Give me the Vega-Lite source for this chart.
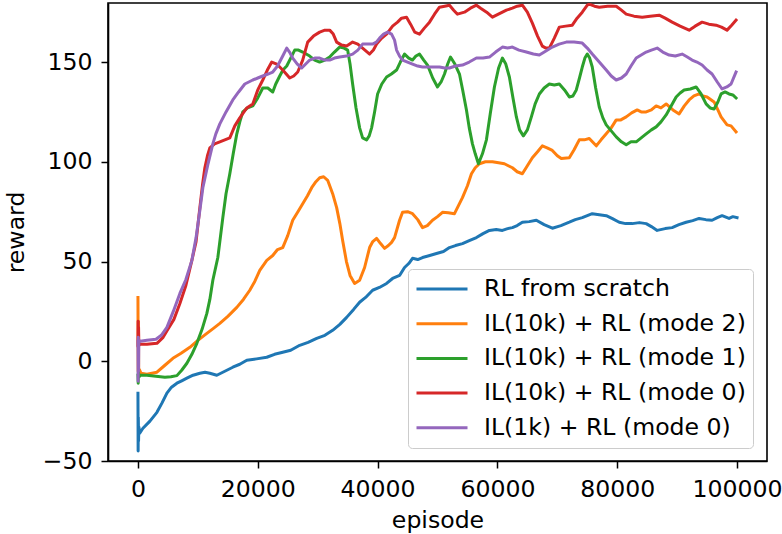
{
  "$schema": "https://vega.github.io/schema/vega-lite/v6.json",
  "width": 659,
  "height": 458,
  "autosize": "none",
  "padding": {"left": 108, "top": 3, "right": 15, "bottom": 73},
  "config": {
    "font": "DejaVu Sans",
    "view": {"stroke": "black", "strokeWidth": 1.6},
    "axis": {
      "labelFontSize": 23.6, "titleFontSize": 23.6, "titleFontWeight": "normal",
      "labelColor": "black", "titleColor": "black",
      "tickColor": "black", "tickSize": 7, "tickWidth": 1.5,
      "domainColor": "black", "domainWidth": 1.6, "grid": false,
      "labelFlush": false, "labelOverlap": false
    }
  },
  "layer": [
    {
      "data": {"values": [
{"series":"RL from scratch","episode":0,"reward":-16},{"series":"RL from scratch","episode":30,"reward":-45},{"series":"RL from scratch","episode":60,"reward":-28},{"series":"RL from scratch","episode":100,"reward":-40},{"series":"RL from scratch","episode":150,"reward":-33},{"series":"RL from scratch","episode":300,"reward":-36},{"series":"RL from scratch","episode":833,"reward":-33.6},{"series":"RL from scratch","episode":2000,"reward":-30},{"series":"RL from scratch","episode":3167,"reward":-25.6},{"series":"RL from scratch","episode":4000,"reward":-21},{"series":"RL from scratch","episode":4833,"reward":-16},{"series":"RL from scratch","episode":5600,"reward":-13},{"series":"RL from scratch","episode":6500,"reward":-11},{"series":"RL from scratch","episode":7300,"reward":-9.8},{"series":"RL from scratch","episode":8167,"reward":-8.5},{"series":"RL from scratch","episode":9200,"reward":-7},{"series":"RL from scratch","episode":10333,"reward":-6},{"series":"RL from scratch","episode":11200,"reward":-5.5},{"series":"RL from scratch","episode":12000,"reward":-6},{"series":"RL from scratch","episode":13167,"reward":-7},{"series":"RL from scratch","episode":14500,"reward":-5},{"series":"RL from scratch","episode":15833,"reward":-3},{"series":"RL from scratch","episode":17000,"reward":-1.5},{"series":"RL from scratch","episode":18167,"reward":0.5},{"series":"RL from scratch","episode":19800,"reward":1.2},{"series":"RL from scratch","episode":21500,"reward":2},{"series":"RL from scratch","episode":22800,"reward":3.5},{"series":"RL from scratch","episode":24167,"reward":4.5},{"series":"RL from scratch","episode":25500,"reward":5.5},{"series":"RL from scratch","episode":27000,"reward":8},{"series":"RL from scratch","episode":28400,"reward":9.5},{"series":"RL from scratch","episode":29833,"reward":11.5},{"series":"RL from scratch","episode":31200,"reward":13},{"series":"RL from scratch","episode":32500,"reward":15.5},{"series":"RL from scratch","episode":33700,"reward":18.5},{"series":"RL from scratch","episode":34833,"reward":22},{"series":"RL from scratch","episode":36000,"reward":26},{"series":"RL from scratch","episode":37000,"reward":29.6},{"series":"RL from scratch","episode":38000,"reward":32},{"series":"RL from scratch","episode":39167,"reward":35.6},{"series":"RL from scratch","episode":40300,"reward":37},{"series":"RL from scratch","episode":41500,"reward":39},{"series":"RL from scratch","episode":42500,"reward":41.5},{"series":"RL from scratch","episode":43667,"reward":43},{"series":"RL from scratch","episode":44500,"reward":47},{"series":"RL from scratch","episode":45200,"reward":49},{"series":"RL from scratch","episode":45833,"reward":51.6},{"series":"RL from scratch","episode":46700,"reward":51},{"series":"RL from scratch","episode":47500,"reward":52},{"series":"RL from scratch","episode":48700,"reward":53},{"series":"RL from scratch","episode":49833,"reward":54},{"series":"RL from scratch","episode":51000,"reward":55},{"series":"RL from scratch","episode":52000,"reward":57},{"series":"RL from scratch","episode":53000,"reward":58},{"series":"RL from scratch","episode":54167,"reward":59},{"series":"RL from scratch","episode":55300,"reward":60.5},{"series":"RL from scratch","episode":56500,"reward":62},{"series":"RL from scratch","episode":57600,"reward":64},{"series":"RL from scratch","episode":58667,"reward":65.6},{"series":"RL from scratch","episode":59800,"reward":66},{"series":"RL from scratch","episode":60833,"reward":65.6},{"series":"RL from scratch","episode":61700,"reward":66.5},{"series":"RL from scratch","episode":62500,"reward":67},{"series":"RL from scratch","episode":63300,"reward":68},{"series":"RL from scratch","episode":64167,"reward":69.7},{"series":"RL from scratch","episode":65300,"reward":70},{"series":"RL from scratch","episode":66500,"reward":70.7},{"series":"RL from scratch","episode":67800,"reward":68.5},{"series":"RL from scratch","episode":69167,"reward":66.7},{"series":"RL from scratch","episode":70600,"reward":68},{"series":"RL from scratch","episode":72000,"reward":69.7},{"series":"RL from scratch","episode":73000,"reward":71},{"series":"RL from scratch","episode":74167,"reward":72},{"series":"RL from scratch","episode":75000,"reward":73},{"series":"RL from scratch","episode":75833,"reward":74},{"series":"RL from scratch","episode":77000,"reward":73.5},{"series":"RL from scratch","episode":78167,"reward":73},{"series":"RL from scratch","episode":79200,"reward":71.5},{"series":"RL from scratch","episode":80333,"reward":69.7},{"series":"RL from scratch","episode":81400,"reward":69},{"series":"RL from scratch","episode":82500,"reward":69},{"series":"RL from scratch","episode":83700,"reward":69.5},{"series":"RL from scratch","episode":84833,"reward":69},{"series":"RL from scratch","episode":85700,"reward":67.5},{"series":"RL from scratch","episode":86667,"reward":65.6},{"series":"RL from scratch","episode":88000,"reward":66.5},{"series":"RL from scratch","episode":89167,"reward":67},{"series":"RL from scratch","episode":90300,"reward":68.5},{"series":"RL from scratch","episode":91500,"reward":69.7},{"series":"RL from scratch","episode":92600,"reward":70.5},{"series":"RL from scratch","episode":93667,"reward":71.6},{"series":"RL from scratch","episode":94800,"reward":71},{"series":"RL from scratch","episode":95833,"reward":70.7},{"series":"RL from scratch","episode":96700,"reward":72},{"series":"RL from scratch","episode":97500,"reward":73},{"series":"RL from scratch","episode":98667,"reward":71.6},{"series":"RL from scratch","episode":99300,"reward":72.5},{"series":"RL from scratch","episode":100000,"reward":72},
{"series":"IL(10k) + RL (mode 2)","episode":0,"reward":32},{"series":"IL(10k) + RL (mode 2)","episode":40,"reward":-5},{"series":"IL(10k) + RL (mode 2)","episode":80,"reward":20},{"series":"IL(10k) + RL (mode 2)","episode":120,"reward":-7},{"series":"IL(10k) + RL (mode 2)","episode":200,"reward":-4},{"series":"IL(10k) + RL (mode 2)","episode":500,"reward":-6},{"series":"IL(10k) + RL (mode 2)","episode":1500,"reward":-6.5},{"series":"IL(10k) + RL (mode 2)","episode":3167,"reward":-5.5},{"series":"IL(10k) + RL (mode 2)","episode":4500,"reward":-2},{"series":"IL(10k) + RL (mode 2)","episode":5833,"reward":1.5},{"series":"IL(10k) + RL (mode 2)","episode":7200,"reward":4},{"series":"IL(10k) + RL (mode 2)","episode":8667,"reward":7},{"series":"IL(10k) + RL (mode 2)","episode":10000,"reward":10.5},{"series":"IL(10k) + RL (mode 2)","episode":11500,"reward":14},{"series":"IL(10k) + RL (mode 2)","episode":12600,"reward":16.5},{"series":"IL(10k) + RL (mode 2)","episode":13667,"reward":19},{"series":"IL(10k) + RL (mode 2)","episode":15000,"reward":22.5},{"series":"IL(10k) + RL (mode 2)","episode":16500,"reward":27},{"series":"IL(10k) + RL (mode 2)","episode":17600,"reward":31},{"series":"IL(10k) + RL (mode 2)","episode":18667,"reward":35.6},{"series":"IL(10k) + RL (mode 2)","episode":19500,"reward":40},{"series":"IL(10k) + RL (mode 2)","episode":20333,"reward":45.6},{"series":"IL(10k) + RL (mode 2)","episode":21500,"reward":50.6},{"series":"IL(10k) + RL (mode 2)","episode":22500,"reward":53},{"series":"IL(10k) + RL (mode 2)","episode":23300,"reward":56},{"series":"IL(10k) + RL (mode 2)","episode":24167,"reward":57},{"series":"IL(10k) + RL (mode 2)","episode":25000,"reward":63},{"series":"IL(10k) + RL (mode 2)","episode":25833,"reward":70.7},{"series":"IL(10k) + RL (mode 2)","episode":26700,"reward":75},{"series":"IL(10k) + RL (mode 2)","episode":27500,"reward":79},{"series":"IL(10k) + RL (mode 2)","episode":28300,"reward":83},{"series":"IL(10k) + RL (mode 2)","episode":29000,"reward":87},{"series":"IL(10k) + RL (mode 2)","episode":29700,"reward":90},{"series":"IL(10k) + RL (mode 2)","episode":30333,"reward":92},{"series":"IL(10k) + RL (mode 2)","episode":31000,"reward":92.5},{"series":"IL(10k) + RL (mode 2)","episode":31667,"reward":90.7},{"series":"IL(10k) + RL (mode 2)","episode":32500,"reward":84},{"series":"IL(10k) + RL (mode 2)","episode":33167,"reward":77},{"series":"IL(10k) + RL (mode 2)","episode":33700,"reward":69},{"series":"IL(10k) + RL (mode 2)","episode":34167,"reward":60.6},{"series":"IL(10k) + RL (mode 2)","episode":34800,"reward":50},{"series":"IL(10k) + RL (mode 2)","episode":35400,"reward":43},{"series":"IL(10k) + RL (mode 2)","episode":36167,"reward":39},{"series":"IL(10k) + RL (mode 2)","episode":37000,"reward":40.6},{"series":"IL(10k) + RL (mode 2)","episode":37833,"reward":47},{"series":"IL(10k) + RL (mode 2)","episode":38667,"reward":57},{"series":"IL(10k) + RL (mode 2)","episode":39200,"reward":60},{"series":"IL(10k) + RL (mode 2)","episode":39833,"reward":61.6},{"series":"IL(10k) + RL (mode 2)","episode":40500,"reward":59},{"series":"IL(10k) + RL (mode 2)","episode":41167,"reward":56.6},{"series":"IL(10k) + RL (mode 2)","episode":41800,"reward":58},{"series":"IL(10k) + RL (mode 2)","episode":42333,"reward":59.6},{"series":"IL(10k) + RL (mode 2)","episode":42833,"reward":62},{"series":"IL(10k) + RL (mode 2)","episode":43667,"reward":70.7},{"series":"IL(10k) + RL (mode 2)","episode":44167,"reward":74.7},{"series":"IL(10k) + RL (mode 2)","episode":45000,"reward":75},{"series":"IL(10k) + RL (mode 2)","episode":45833,"reward":74},{"series":"IL(10k) + RL (mode 2)","episode":46700,"reward":71},{"series":"IL(10k) + RL (mode 2)","episode":47500,"reward":67},{"series":"IL(10k) + RL (mode 2)","episode":48300,"reward":68},{"series":"IL(10k) + RL (mode 2)","episode":49167,"reward":70.7},{"series":"IL(10k) + RL (mode 2)","episode":50000,"reward":72.5},{"series":"IL(10k) + RL (mode 2)","episode":50833,"reward":74.7},{"series":"IL(10k) + RL (mode 2)","episode":51800,"reward":74.5},{"series":"IL(10k) + RL (mode 2)","episode":52833,"reward":74},{"series":"IL(10k) + RL (mode 2)","episode":53500,"reward":78},{"series":"IL(10k) + RL (mode 2)","episode":54167,"reward":82},{"series":"IL(10k) + RL (mode 2)","episode":55000,"reward":88},{"series":"IL(10k) + RL (mode 2)","episode":55667,"reward":94},{"series":"IL(10k) + RL (mode 2)","episode":56300,"reward":97},{"series":"IL(10k) + RL (mode 2)","episode":57000,"reward":99},{"series":"IL(10k) + RL (mode 2)","episode":58000,"reward":100},{"series":"IL(10k) + RL (mode 2)","episode":59167,"reward":100},{"series":"IL(10k) + RL (mode 2)","episode":60200,"reward":99.5},{"series":"IL(10k) + RL (mode 2)","episode":61167,"reward":99},{"series":"IL(10k) + RL (mode 2)","episode":62500,"reward":97},{"series":"IL(10k) + RL (mode 2)","episode":63300,"reward":95},{"series":"IL(10k) + RL (mode 2)","episode":64167,"reward":94},{"series":"IL(10k) + RL (mode 2)","episode":65000,"reward":98},{"series":"IL(10k) + RL (mode 2)","episode":65833,"reward":102},{"series":"IL(10k) + RL (mode 2)","episode":66700,"reward":105},{"series":"IL(10k) + RL (mode 2)","episode":67500,"reward":108},{"series":"IL(10k) + RL (mode 2)","episode":68300,"reward":107},{"series":"IL(10k) + RL (mode 2)","episode":69167,"reward":105.7},{"series":"IL(10k) + RL (mode 2)","episode":70000,"reward":103},{"series":"IL(10k) + RL (mode 2)","episode":70667,"reward":101.6},{"series":"IL(10k) + RL (mode 2)","episode":72000,"reward":102},{"series":"IL(10k) + RL (mode 2)","episode":72800,"reward":106},{"series":"IL(10k) + RL (mode 2)","episode":73667,"reward":111},{"series":"IL(10k) + RL (mode 2)","episode":74500,"reward":111},{"series":"IL(10k) + RL (mode 2)","episode":75333,"reward":111.7},{"series":"IL(10k) + RL (mode 2)","episode":76500,"reward":108},{"series":"IL(10k) + RL (mode 2)","episode":77300,"reward":111},{"series":"IL(10k) + RL (mode 2)","episode":78167,"reward":114},{"series":"IL(10k) + RL (mode 2)","episode":79000,"reward":117},{"series":"IL(10k) + RL (mode 2)","episode":79833,"reward":121},{"series":"IL(10k) + RL (mode 2)","episode":80600,"reward":121},{"series":"IL(10k) + RL (mode 2)","episode":81500,"reward":122.5},{"series":"IL(10k) + RL (mode 2)","episode":82400,"reward":124.5},{"series":"IL(10k) + RL (mode 2)","episode":83333,"reward":126},{"series":"IL(10k) + RL (mode 2)","episode":84000,"reward":125},{"series":"IL(10k) + RL (mode 2)","episode":84833,"reward":125},{"series":"IL(10k) + RL (mode 2)","episode":85700,"reward":126},{"series":"IL(10k) + RL (mode 2)","episode":86500,"reward":128},{"series":"IL(10k) + RL (mode 2)","episode":87300,"reward":127},{"series":"IL(10k) + RL (mode 2)","episode":88167,"reward":129},{"series":"IL(10k) + RL (mode 2)","episode":89300,"reward":126},{"series":"IL(10k) + RL (mode 2)","episode":90333,"reward":124},{"series":"IL(10k) + RL (mode 2)","episode":91200,"reward":128},{"series":"IL(10k) + RL (mode 2)","episode":92000,"reward":131},{"series":"IL(10k) + RL (mode 2)","episode":92800,"reward":133},{"series":"IL(10k) + RL (mode 2)","episode":93667,"reward":134},{"series":"IL(10k) + RL (mode 2)","episode":94300,"reward":133},{"series":"IL(10k) + RL (mode 2)","episode":95000,"reward":132.5},{"series":"IL(10k) + RL (mode 2)","episode":95700,"reward":131},{"series":"IL(10k) + RL (mode 2)","episode":96167,"reward":130},{"series":"IL(10k) + RL (mode 2)","episode":96800,"reward":126},{"series":"IL(10k) + RL (mode 2)","episode":97333,"reward":122.5},{"series":"IL(10k) + RL (mode 2)","episode":98333,"reward":118.5},{"series":"IL(10k) + RL (mode 2)","episode":99000,"reward":118},{"series":"IL(10k) + RL (mode 2)","episode":99833,"reward":115},
{"series":"IL(10k) + RL (mode 1)","episode":0,"reward":-7},{"series":"IL(10k) + RL (mode 1)","episode":40,"reward":-11},{"series":"IL(10k) + RL (mode 1)","episode":80,"reward":-5},{"series":"IL(10k) + RL (mode 1)","episode":150,"reward":-8},{"series":"IL(10k) + RL (mode 1)","episode":400,"reward":-7},{"series":"IL(10k) + RL (mode 1)","episode":1500,"reward":-7},{"series":"IL(10k) + RL (mode 1)","episode":3000,"reward":-7.5},{"series":"IL(10k) + RL (mode 1)","episode":4500,"reward":-8},{"series":"IL(10k) + RL (mode 1)","episode":5500,"reward":-7.8},{"series":"IL(10k) + RL (mode 1)","episode":6500,"reward":-7.2},{"series":"IL(10k) + RL (mode 1)","episode":7300,"reward":-4.5},{"series":"IL(10k) + RL (mode 1)","episode":8167,"reward":-1},{"series":"IL(10k) + RL (mode 1)","episode":9000,"reward":3.5},{"series":"IL(10k) + RL (mode 1)","episode":9833,"reward":9},{"series":"IL(10k) + RL (mode 1)","episode":10700,"reward":16},{"series":"IL(10k) + RL (mode 1)","episode":11500,"reward":24},{"series":"IL(10k) + RL (mode 1)","episode":12000,"reward":31},{"series":"IL(10k) + RL (mode 1)","episode":12500,"reward":40.6},{"series":"IL(10k) + RL (mode 1)","episode":13333,"reward":52},{"series":"IL(10k) + RL (mode 1)","episode":14167,"reward":72},{"series":"IL(10k) + RL (mode 1)","episode":14700,"reward":84},{"series":"IL(10k) + RL (mode 1)","episode":15333,"reward":94},{"series":"IL(10k) + RL (mode 1)","episode":15900,"reward":104},{"series":"IL(10k) + RL (mode 1)","episode":16500,"reward":114},{"series":"IL(10k) + RL (mode 1)","episode":17000,"reward":120},{"series":"IL(10k) + RL (mode 1)","episode":17500,"reward":125},{"series":"IL(10k) + RL (mode 1)","episode":18300,"reward":127},{"series":"IL(10k) + RL (mode 1)","episode":19167,"reward":128},{"series":"IL(10k) + RL (mode 1)","episode":20000,"reward":132},{"series":"IL(10k) + RL (mode 1)","episode":20833,"reward":137},{"series":"IL(10k) + RL (mode 1)","episode":21667,"reward":137},{"series":"IL(10k) + RL (mode 1)","episode":22500,"reward":135},{"series":"IL(10k) + RL (mode 1)","episode":23000,"reward":139},{"series":"IL(10k) + RL (mode 1)","episode":23667,"reward":143},{"series":"IL(10k) + RL (mode 1)","episode":24200,"reward":146},{"series":"IL(10k) + RL (mode 1)","episode":24833,"reward":148},{"series":"IL(10k) + RL (mode 1)","episode":25500,"reward":152},{"series":"IL(10k) + RL (mode 1)","episode":26167,"reward":156},{"series":"IL(10k) + RL (mode 1)","episode":26800,"reward":156},{"series":"IL(10k) + RL (mode 1)","episode":27500,"reward":155},{"series":"IL(10k) + RL (mode 1)","episode":28667,"reward":153},{"series":"IL(10k) + RL (mode 1)","episode":29500,"reward":151},{"series":"IL(10k) + RL (mode 1)","episode":30333,"reward":150},{"series":"IL(10k) + RL (mode 1)","episode":31200,"reward":151},{"series":"IL(10k) + RL (mode 1)","episode":32000,"reward":152.5},{"series":"IL(10k) + RL (mode 1)","episode":32800,"reward":155},{"series":"IL(10k) + RL (mode 1)","episode":33667,"reward":157.5},{"series":"IL(10k) + RL (mode 1)","episode":34400,"reward":157},{"series":"IL(10k) + RL (mode 1)","episode":35000,"reward":156},{"series":"IL(10k) + RL (mode 1)","episode":35400,"reward":149},{"series":"IL(10k) + RL (mode 1)","episode":35833,"reward":139},{"series":"IL(10k) + RL (mode 1)","episode":36400,"reward":127},{"series":"IL(10k) + RL (mode 1)","episode":37000,"reward":117},{"series":"IL(10k) + RL (mode 1)","episode":37500,"reward":112},{"series":"IL(10k) + RL (mode 1)","episode":38167,"reward":111},{"series":"IL(10k) + RL (mode 1)","episode":38600,"reward":113},{"series":"IL(10k) + RL (mode 1)","episode":39000,"reward":117},{"series":"IL(10k) + RL (mode 1)","episode":39500,"reward":125},{"series":"IL(10k) + RL (mode 1)","episode":40000,"reward":134},{"series":"IL(10k) + RL (mode 1)","episode":40700,"reward":139},{"series":"IL(10k) + RL (mode 1)","episode":41500,"reward":142.5},{"series":"IL(10k) + RL (mode 1)","episode":42300,"reward":144},{"series":"IL(10k) + RL (mode 1)","episode":43167,"reward":146},{"series":"IL(10k) + RL (mode 1)","episode":43800,"reward":150},{"series":"IL(10k) + RL (mode 1)","episode":44500,"reward":154},{"series":"IL(10k) + RL (mode 1)","episode":45200,"reward":152},{"series":"IL(10k) + RL (mode 1)","episode":45833,"reward":151},{"series":"IL(10k) + RL (mode 1)","episode":46400,"reward":153},{"series":"IL(10k) + RL (mode 1)","episode":47000,"reward":154},{"series":"IL(10k) + RL (mode 1)","episode":47700,"reward":151},{"series":"IL(10k) + RL (mode 1)","episode":48333,"reward":148.5},{"series":"IL(10k) + RL (mode 1)","episode":49200,"reward":142},{"series":"IL(10k) + RL (mode 1)","episode":50000,"reward":137.5},{"series":"IL(10k) + RL (mode 1)","episode":50600,"reward":140},{"series":"IL(10k) + RL (mode 1)","episode":51167,"reward":144},{"series":"IL(10k) + RL (mode 1)","episode":51700,"reward":149},{"series":"IL(10k) + RL (mode 1)","episode":52167,"reward":152.5},{"series":"IL(10k) + RL (mode 1)","episode":52900,"reward":149},{"series":"IL(10k) + RL (mode 1)","episode":53667,"reward":144},{"series":"IL(10k) + RL (mode 1)","episode":54200,"reward":136},{"series":"IL(10k) + RL (mode 1)","episode":54833,"reward":126},{"series":"IL(10k) + RL (mode 1)","episode":55300,"reward":117},{"series":"IL(10k) + RL (mode 1)","episode":55833,"reward":109},{"series":"IL(10k) + RL (mode 1)","episode":56300,"reward":104},{"series":"IL(10k) + RL (mode 1)","episode":56833,"reward":99},{"series":"IL(10k) + RL (mode 1)","episode":57500,"reward":104},{"series":"IL(10k) + RL (mode 1)","episode":58167,"reward":111},{"series":"IL(10k) + RL (mode 1)","episode":58800,"reward":124},{"series":"IL(10k) + RL (mode 1)","episode":59500,"reward":137.5},{"series":"IL(10k) + RL (mode 1)","episode":60200,"reward":147},{"series":"IL(10k) + RL (mode 1)","episode":60833,"reward":152},{"series":"IL(10k) + RL (mode 1)","episode":61400,"reward":149},{"series":"IL(10k) + RL (mode 1)","episode":62000,"reward":142.5},{"series":"IL(10k) + RL (mode 1)","episode":62600,"reward":132},{"series":"IL(10k) + RL (mode 1)","episode":63167,"reward":122.5},{"series":"IL(10k) + RL (mode 1)","episode":63700,"reward":116},{"series":"IL(10k) + RL (mode 1)","episode":64333,"reward":113},{"series":"IL(10k) + RL (mode 1)","episode":65000,"reward":116},{"series":"IL(10k) + RL (mode 1)","episode":65667,"reward":122.5},{"series":"IL(10k) + RL (mode 1)","episode":66300,"reward":129},{"series":"IL(10k) + RL (mode 1)","episode":67000,"reward":134},{"series":"IL(10k) + RL (mode 1)","episode":67800,"reward":137},{"series":"IL(10k) + RL (mode 1)","episode":68667,"reward":139},{"series":"IL(10k) + RL (mode 1)","episode":69500,"reward":138.5},{"series":"IL(10k) + RL (mode 1)","episode":70333,"reward":139},{"series":"IL(10k) + RL (mode 1)","episode":71200,"reward":136},{"series":"IL(10k) + RL (mode 1)","episode":72000,"reward":132.5},{"series":"IL(10k) + RL (mode 1)","episode":72600,"reward":133},{"series":"IL(10k) + RL (mode 1)","episode":73167,"reward":136},{"series":"IL(10k) + RL (mode 1)","episode":73700,"reward":142},{"series":"IL(10k) + RL (mode 1)","episode":74167,"reward":147.5},{"series":"IL(10k) + RL (mode 1)","episode":74600,"reward":152},{"series":"IL(10k) + RL (mode 1)","episode":75000,"reward":154},{"series":"IL(10k) + RL (mode 1)","episode":75400,"reward":152},{"series":"IL(10k) + RL (mode 1)","episode":75833,"reward":147.5},{"series":"IL(10k) + RL (mode 1)","episode":76400,"reward":137},{"series":"IL(10k) + RL (mode 1)","episode":77000,"reward":127.5},{"series":"IL(10k) + RL (mode 1)","episode":77600,"reward":122},{"series":"IL(10k) + RL (mode 1)","episode":78167,"reward":118.5},{"series":"IL(10k) + RL (mode 1)","episode":79000,"reward":115.5},{"series":"IL(10k) + RL (mode 1)","episode":79833,"reward":112.5},{"series":"IL(10k) + RL (mode 1)","episode":80700,"reward":110},{"series":"IL(10k) + RL (mode 1)","episode":81500,"reward":108.5},{"series":"IL(10k) + RL (mode 1)","episode":82300,"reward":110},{"series":"IL(10k) + RL (mode 1)","episode":83167,"reward":110},{"series":"IL(10k) + RL (mode 1)","episode":84000,"reward":112},{"series":"IL(10k) + RL (mode 1)","episode":84833,"reward":114},{"series":"IL(10k) + RL (mode 1)","episode":85700,"reward":116},{"series":"IL(10k) + RL (mode 1)","episode":86500,"reward":117.5},{"series":"IL(10k) + RL (mode 1)","episode":87300,"reward":120},{"series":"IL(10k) + RL (mode 1)","episode":88167,"reward":123.5},{"series":"IL(10k) + RL (mode 1)","episode":89000,"reward":128},{"series":"IL(10k) + RL (mode 1)","episode":89833,"reward":132.5},{"series":"IL(10k) + RL (mode 1)","episode":90500,"reward":134.5},{"series":"IL(10k) + RL (mode 1)","episode":91167,"reward":136},{"series":"IL(10k) + RL (mode 1)","episode":92200,"reward":136.5},{"series":"IL(10k) + RL (mode 1)","episode":93167,"reward":137.5},{"series":"IL(10k) + RL (mode 1)","episode":94000,"reward":134},{"series":"IL(10k) + RL (mode 1)","episode":94833,"reward":129},{"series":"IL(10k) + RL (mode 1)","episode":95500,"reward":127},{"series":"IL(10k) + RL (mode 1)","episode":96167,"reward":126.5},{"series":"IL(10k) + RL (mode 1)","episode":96800,"reward":130},{"series":"IL(10k) + RL (mode 1)","episode":97333,"reward":134},{"series":"IL(10k) + RL (mode 1)","episode":98000,"reward":135},{"series":"IL(10k) + RL (mode 1)","episode":98667,"reward":134},{"series":"IL(10k) + RL (mode 1)","episode":99300,"reward":133.5},{"series":"IL(10k) + RL (mode 1)","episode":99833,"reward":132},
{"series":"IL(10k) + RL (mode 0)","episode":0,"reward":8},{"series":"IL(10k) + RL (mode 0)","episode":30,"reward":20},{"series":"IL(10k) + RL (mode 0)","episode":60,"reward":7},{"series":"IL(10k) + RL (mode 0)","episode":100,"reward":17},{"series":"IL(10k) + RL (mode 0)","episode":150,"reward":8},{"series":"IL(10k) + RL (mode 0)","episode":400,"reward":8.5},{"series":"IL(10k) + RL (mode 0)","episode":1500,"reward":8.5},{"series":"IL(10k) + RL (mode 0)","episode":3167,"reward":9},{"series":"IL(10k) + RL (mode 0)","episode":4200,"reward":12},{"series":"IL(10k) + RL (mode 0)","episode":5000,"reward":16},{"series":"IL(10k) + RL (mode 0)","episode":6000,"reward":21},{"series":"IL(10k) + RL (mode 0)","episode":7000,"reward":29},{"series":"IL(10k) + RL (mode 0)","episode":8000,"reward":38},{"series":"IL(10k) + RL (mode 0)","episode":9000,"reward":50.6},{"series":"IL(10k) + RL (mode 0)","episode":9700,"reward":60},{"series":"IL(10k) + RL (mode 0)","episode":10333,"reward":77},{"series":"IL(10k) + RL (mode 0)","episode":10800,"reward":89},{"series":"IL(10k) + RL (mode 0)","episode":11167,"reward":97},{"series":"IL(10k) + RL (mode 0)","episode":11600,"reward":103},{"series":"IL(10k) + RL (mode 0)","episode":12000,"reward":107},{"series":"IL(10k) + RL (mode 0)","episode":12800,"reward":109},{"series":"IL(10k) + RL (mode 0)","episode":13667,"reward":110},{"series":"IL(10k) + RL (mode 0)","episode":14500,"reward":111},{"series":"IL(10k) + RL (mode 0)","episode":15333,"reward":112},{"series":"IL(10k) + RL (mode 0)","episode":16167,"reward":118},{"series":"IL(10k) + RL (mode 0)","episode":17000,"reward":122},{"series":"IL(10k) + RL (mode 0)","episode":18167,"reward":127},{"series":"IL(10k) + RL (mode 0)","episode":19167,"reward":129},{"series":"IL(10k) + RL (mode 0)","episode":20000,"reward":136},{"series":"IL(10k) + RL (mode 0)","episode":20833,"reward":141},{"series":"IL(10k) + RL (mode 0)","episode":21600,"reward":146},{"series":"IL(10k) + RL (mode 0)","episode":22333,"reward":150},{"series":"IL(10k) + RL (mode 0)","episode":23167,"reward":149},{"series":"IL(10k) + RL (mode 0)","episode":24167,"reward":146},{"series":"IL(10k) + RL (mode 0)","episode":25333,"reward":142},{"series":"IL(10k) + RL (mode 0)","episode":26000,"reward":143},{"series":"IL(10k) + RL (mode 0)","episode":26667,"reward":145},{"series":"IL(10k) + RL (mode 0)","episode":27500,"reward":151},{"series":"IL(10k) + RL (mode 0)","episode":28333,"reward":160},{"series":"IL(10k) + RL (mode 0)","episode":29300,"reward":163},{"series":"IL(10k) + RL (mode 0)","episode":30333,"reward":165},{"series":"IL(10k) + RL (mode 0)","episode":31200,"reward":166},{"series":"IL(10k) + RL (mode 0)","episode":32000,"reward":166},{"series":"IL(10k) + RL (mode 0)","episode":32600,"reward":164},{"series":"IL(10k) + RL (mode 0)","episode":33167,"reward":160},{"series":"IL(10k) + RL (mode 0)","episode":34000,"reward":158.5},{"series":"IL(10k) + RL (mode 0)","episode":34833,"reward":158},{"series":"IL(10k) + RL (mode 0)","episode":35833,"reward":160},{"series":"IL(10k) + RL (mode 0)","episode":36700,"reward":159},{"series":"IL(10k) + RL (mode 0)","episode":37500,"reward":157},{"series":"IL(10k) + RL (mode 0)","episode":38667,"reward":154},{"series":"IL(10k) + RL (mode 0)","episode":39300,"reward":156},{"series":"IL(10k) + RL (mode 0)","episode":39833,"reward":159},{"series":"IL(10k) + RL (mode 0)","episode":40700,"reward":162},{"series":"IL(10k) + RL (mode 0)","episode":41500,"reward":164},{"series":"IL(10k) + RL (mode 0)","episode":42500,"reward":168},{"series":"IL(10k) + RL (mode 0)","episode":43333,"reward":170},{"series":"IL(10k) + RL (mode 0)","episode":44000,"reward":172},{"series":"IL(10k) + RL (mode 0)","episode":44833,"reward":172.5},{"series":"IL(10k) + RL (mode 0)","episode":45500,"reward":169},{"series":"IL(10k) + RL (mode 0)","episode":46200,"reward":165},{"series":"IL(10k) + RL (mode 0)","episode":47000,"reward":164},{"series":"IL(10k) + RL (mode 0)","episode":47800,"reward":167},{"series":"IL(10k) + RL (mode 0)","episode":48667,"reward":170},{"series":"IL(10k) + RL (mode 0)","episode":49500,"reward":174},{"series":"IL(10k) + RL (mode 0)","episode":50333,"reward":177.5},{"series":"IL(10k) + RL (mode 0)","episode":51200,"reward":178},{"series":"IL(10k) + RL (mode 0)","episode":52000,"reward":178.5},{"series":"IL(10k) + RL (mode 0)","episode":52700,"reward":176},{"series":"IL(10k) + RL (mode 0)","episode":53333,"reward":174},{"series":"IL(10k) + RL (mode 0)","episode":54500,"reward":175},{"series":"IL(10k) + RL (mode 0)","episode":55500,"reward":177},{"series":"IL(10k) + RL (mode 0)","episode":56500,"reward":178.5},{"series":"IL(10k) + RL (mode 0)","episode":57200,"reward":177},{"series":"IL(10k) + RL (mode 0)","episode":58200,"reward":175},{"series":"IL(10k) + RL (mode 0)","episode":59167,"reward":172.5},{"series":"IL(10k) + RL (mode 0)","episode":60500,"reward":174.5},{"series":"IL(10k) + RL (mode 0)","episode":61500,"reward":176},{"series":"IL(10k) + RL (mode 0)","episode":62500,"reward":177},{"series":"IL(10k) + RL (mode 0)","episode":63300,"reward":178},{"series":"IL(10k) + RL (mode 0)","episode":64167,"reward":178.5},{"series":"IL(10k) + RL (mode 0)","episode":65000,"reward":175},{"series":"IL(10k) + RL (mode 0)","episode":65833,"reward":169.5},{"series":"IL(10k) + RL (mode 0)","episode":66700,"reward":163},{"series":"IL(10k) + RL (mode 0)","episode":67500,"reward":158},{"series":"IL(10k) + RL (mode 0)","episode":68100,"reward":157},{"series":"IL(10k) + RL (mode 0)","episode":68667,"reward":157},{"series":"IL(10k) + RL (mode 0)","episode":69500,"reward":162},{"series":"IL(10k) + RL (mode 0)","episode":70333,"reward":167.5},{"series":"IL(10k) + RL (mode 0)","episode":71400,"reward":168},{"series":"IL(10k) + RL (mode 0)","episode":72500,"reward":168.5},{"series":"IL(10k) + RL (mode 0)","episode":73300,"reward":172},{"series":"IL(10k) + RL (mode 0)","episode":74167,"reward":175},{"series":"IL(10k) + RL (mode 0)","episode":75000,"reward":178.5},{"series":"IL(10k) + RL (mode 0)","episode":75333,"reward":179},{"series":"IL(10k) + RL (mode 0)","episode":76200,"reward":178},{"series":"IL(10k) + RL (mode 0)","episode":77000,"reward":177.5},{"series":"IL(10k) + RL (mode 0)","episode":78400,"reward":178},{"series":"IL(10k) + RL (mode 0)","episode":79833,"reward":178},{"series":"IL(10k) + RL (mode 0)","episode":80700,"reward":176},{"series":"IL(10k) + RL (mode 0)","episode":81500,"reward":174},{"series":"IL(10k) + RL (mode 0)","episode":82800,"reward":173},{"series":"IL(10k) + RL (mode 0)","episode":84167,"reward":172.5},{"series":"IL(10k) + RL (mode 0)","episode":85500,"reward":173},{"series":"IL(10k) + RL (mode 0)","episode":87000,"reward":173.5},{"series":"IL(10k) + RL (mode 0)","episode":88000,"reward":172},{"series":"IL(10k) + RL (mode 0)","episode":89167,"reward":170},{"series":"IL(10k) + RL (mode 0)","episode":90500,"reward":168},{"series":"IL(10k) + RL (mode 0)","episode":92000,"reward":166},{"series":"IL(10k) + RL (mode 0)","episode":93000,"reward":168},{"series":"IL(10k) + RL (mode 0)","episode":94167,"reward":170},{"series":"IL(10k) + RL (mode 0)","episode":95300,"reward":169},{"series":"IL(10k) + RL (mode 0)","episode":96500,"reward":168.5},{"series":"IL(10k) + RL (mode 0)","episode":97400,"reward":167.5},{"series":"IL(10k) + RL (mode 0)","episode":98333,"reward":166},{"series":"IL(10k) + RL (mode 0)","episode":99100,"reward":168.5},{"series":"IL(10k) + RL (mode 0)","episode":99833,"reward":171},
{"series":"IL(1k) + RL (mode 0)","episode":0,"reward":10},{"series":"IL(1k) + RL (mode 0)","episode":30,"reward":-10},{"series":"IL(1k) + RL (mode 0)","episode":60,"reward":12},{"series":"IL(1k) + RL (mode 0)","episode":100,"reward":-5},{"series":"IL(1k) + RL (mode 0)","episode":150,"reward":10.5},{"series":"IL(1k) + RL (mode 0)","episode":400,"reward":10},{"series":"IL(1k) + RL (mode 0)","episode":1500,"reward":10.5},{"series":"IL(1k) + RL (mode 0)","episode":3000,"reward":11},{"series":"IL(1k) + RL (mode 0)","episode":3900,"reward":13},{"series":"IL(1k) + RL (mode 0)","episode":4833,"reward":17},{"series":"IL(1k) + RL (mode 0)","episode":5900,"reward":25},{"series":"IL(1k) + RL (mode 0)","episode":7000,"reward":34},{"series":"IL(1k) + RL (mode 0)","episode":8000,"reward":41},{"series":"IL(1k) + RL (mode 0)","episode":9000,"reward":50.6},{"series":"IL(1k) + RL (mode 0)","episode":9700,"reward":62},{"series":"IL(1k) + RL (mode 0)","episode":10333,"reward":75.7},{"series":"IL(1k) + RL (mode 0)","episode":10833,"reward":87},{"series":"IL(1k) + RL (mode 0)","episode":11700,"reward":99},{"series":"IL(1k) + RL (mode 0)","episode":12500,"reward":109},{"series":"IL(1k) + RL (mode 0)","episode":13000,"reward":114},{"series":"IL(1k) + RL (mode 0)","episode":13667,"reward":119},{"series":"IL(1k) + RL (mode 0)","episode":14700,"reward":125},{"series":"IL(1k) + RL (mode 0)","episode":15833,"reward":131},{"series":"IL(1k) + RL (mode 0)","episode":16800,"reward":135},{"series":"IL(1k) + RL (mode 0)","episode":17833,"reward":139},{"series":"IL(1k) + RL (mode 0)","episode":18500,"reward":140},{"series":"IL(1k) + RL (mode 0)","episode":19167,"reward":141},{"series":"IL(1k) + RL (mode 0)","episode":20000,"reward":142},{"series":"IL(1k) + RL (mode 0)","episode":20833,"reward":143},{"series":"IL(1k) + RL (mode 0)","episode":21700,"reward":144},{"series":"IL(1k) + RL (mode 0)","episode":22500,"reward":145},{"series":"IL(1k) + RL (mode 0)","episode":23300,"reward":148},{"series":"IL(1k) + RL (mode 0)","episode":24167,"reward":153},{"series":"IL(1k) + RL (mode 0)","episode":24833,"reward":157},{"series":"IL(1k) + RL (mode 0)","episode":25300,"reward":155},{"series":"IL(1k) + RL (mode 0)","episode":25833,"reward":152},{"series":"IL(1k) + RL (mode 0)","episode":26600,"reward":149},{"series":"IL(1k) + RL (mode 0)","episode":27333,"reward":147},{"series":"IL(1k) + RL (mode 0)","episode":28000,"reward":149},{"series":"IL(1k) + RL (mode 0)","episode":28667,"reward":151},{"series":"IL(1k) + RL (mode 0)","episode":29500,"reward":152},{"series":"IL(1k) + RL (mode 0)","episode":30333,"reward":152},{"series":"IL(1k) + RL (mode 0)","episode":31200,"reward":151},{"series":"IL(1k) + RL (mode 0)","episode":32000,"reward":151},{"series":"IL(1k) + RL (mode 0)","episode":32800,"reward":152},{"series":"IL(1k) + RL (mode 0)","episode":33667,"reward":152.5},{"series":"IL(1k) + RL (mode 0)","episode":34800,"reward":153},{"series":"IL(1k) + RL (mode 0)","episode":35833,"reward":154},{"series":"IL(1k) + RL (mode 0)","episode":36700,"reward":156},{"series":"IL(1k) + RL (mode 0)","episode":37500,"reward":159},{"series":"IL(1k) + RL (mode 0)","episode":38300,"reward":159},{"series":"IL(1k) + RL (mode 0)","episode":39167,"reward":159},{"series":"IL(1k) + RL (mode 0)","episode":39800,"reward":160},{"series":"IL(1k) + RL (mode 0)","episode":40333,"reward":162},{"series":"IL(1k) + RL (mode 0)","episode":41000,"reward":164},{"series":"IL(1k) + RL (mode 0)","episode":41667,"reward":165},{"series":"IL(1k) + RL (mode 0)","episode":42333,"reward":164},{"series":"IL(1k) + RL (mode 0)","episode":42833,"reward":161},{"series":"IL(1k) + RL (mode 0)","episode":43167,"reward":156},{"series":"IL(1k) + RL (mode 0)","episode":43667,"reward":153},{"series":"IL(1k) + RL (mode 0)","episode":44167,"reward":151},{"series":"IL(1k) + RL (mode 0)","episode":45000,"reward":150},{"series":"IL(1k) + RL (mode 0)","episode":45833,"reward":149},{"series":"IL(1k) + RL (mode 0)","episode":46700,"reward":148},{"series":"IL(1k) + RL (mode 0)","episode":47500,"reward":147.5},{"series":"IL(1k) + RL (mode 0)","episode":49000,"reward":147.5},{"series":"IL(1k) + RL (mode 0)","episode":50333,"reward":147.5},{"series":"IL(1k) + RL (mode 0)","episode":51200,"reward":147},{"series":"IL(1k) + RL (mode 0)","episode":52000,"reward":147},{"series":"IL(1k) + RL (mode 0)","episode":53000,"reward":148},{"series":"IL(1k) + RL (mode 0)","episode":54167,"reward":148.5},{"series":"IL(1k) + RL (mode 0)","episode":55300,"reward":150},{"series":"IL(1k) + RL (mode 0)","episode":56500,"reward":152},{"series":"IL(1k) + RL (mode 0)","episode":57600,"reward":152},{"series":"IL(1k) + RL (mode 0)","episode":58667,"reward":152.5},{"series":"IL(1k) + RL (mode 0)","episode":59700,"reward":155},{"series":"IL(1k) + RL (mode 0)","episode":60833,"reward":157.5},{"series":"IL(1k) + RL (mode 0)","episode":61700,"reward":157},{"series":"IL(1k) + RL (mode 0)","episode":62500,"reward":157.5},{"series":"IL(1k) + RL (mode 0)","episode":63600,"reward":156},{"series":"IL(1k) + RL (mode 0)","episode":64833,"reward":155},{"series":"IL(1k) + RL (mode 0)","episode":66000,"reward":154},{"series":"IL(1k) + RL (mode 0)","episode":67000,"reward":153.5},{"series":"IL(1k) + RL (mode 0)","episode":68100,"reward":155.5},{"series":"IL(1k) + RL (mode 0)","episode":69167,"reward":157.5},{"series":"IL(1k) + RL (mode 0)","episode":70300,"reward":159},{"series":"IL(1k) + RL (mode 0)","episode":71500,"reward":160},{"series":"IL(1k) + RL (mode 0)","episode":72800,"reward":160},{"series":"IL(1k) + RL (mode 0)","episode":74167,"reward":159.5},{"series":"IL(1k) + RL (mode 0)","episode":75000,"reward":157},{"series":"IL(1k) + RL (mode 0)","episode":75833,"reward":154},{"series":"IL(1k) + RL (mode 0)","episode":77000,"reward":150},{"series":"IL(1k) + RL (mode 0)","episode":78167,"reward":146},{"series":"IL(1k) + RL (mode 0)","episode":79000,"reward":143},{"series":"IL(1k) + RL (mode 0)","episode":79833,"reward":141},{"series":"IL(1k) + RL (mode 0)","episode":80700,"reward":142},{"series":"IL(1k) + RL (mode 0)","episode":81500,"reward":144},{"series":"IL(1k) + RL (mode 0)","episode":82300,"reward":148},{"series":"IL(1k) + RL (mode 0)","episode":83167,"reward":152},{"series":"IL(1k) + RL (mode 0)","episode":84000,"reward":153.5},{"series":"IL(1k) + RL (mode 0)","episode":84833,"reward":155},{"series":"IL(1k) + RL (mode 0)","episode":85700,"reward":156},{"series":"IL(1k) + RL (mode 0)","episode":86667,"reward":157},{"series":"IL(1k) + RL (mode 0)","episode":87600,"reward":155},{"series":"IL(1k) + RL (mode 0)","episode":88667,"reward":153.5},{"series":"IL(1k) + RL (mode 0)","episode":89700,"reward":153},{"series":"IL(1k) + RL (mode 0)","episode":90833,"reward":154},{"series":"IL(1k) + RL (mode 0)","episode":91700,"reward":152.5},{"series":"IL(1k) + RL (mode 0)","episode":92500,"reward":151},{"series":"IL(1k) + RL (mode 0)","episode":93300,"reward":150},{"series":"IL(1k) + RL (mode 0)","episode":94167,"reward":148.5},{"series":"IL(1k) + RL (mode 0)","episode":95000,"reward":146},{"series":"IL(1k) + RL (mode 0)","episode":95833,"reward":144},{"series":"IL(1k) + RL (mode 0)","episode":96700,"reward":140},{"series":"IL(1k) + RL (mode 0)","episode":97500,"reward":136.5},{"series":"IL(1k) + RL (mode 0)","episode":98300,"reward":137.5},{"series":"IL(1k) + RL (mode 0)","episode":99000,"reward":139},{"series":"IL(1k) + RL (mode 0)","episode":99833,"reward":145}
      ]},
      "mark": {"type": "line", "strokeWidth": 3, "clip": true, "strokeJoin": "round", "strokeCap": "square"},
      "encoding": {
        "x": {"field": "episode", "type": "quantitative",
              "scale": {"domain": [-5000, 105000], "nice": false, "zero": false},
              "axis": {"title": "episode", "values": [0, 20000, 40000, 60000, 80000, 100000], "format": "d", "labelPadding": 9, "titlePadding": 8}},
        "y": {"field": "reward", "type": "quantitative",
              "scale": {"domain": [-50, 179.6], "nice": false, "zero": false},
              "axis": {"title": "reward", "values": [-50, 0, 50, 100, 150], "labelPadding": 9, "titlePadding": 14}},
        "color": {"field": "series", "type": "nominal",
                  "scale": {"domain": ["RL from scratch", "IL(10k) + RL (mode 2)", "IL(10k) + RL (mode 1)", "IL(10k) + RL (mode 0)", "IL(1k) + RL (mode 0)"],
                            "range": ["#1f77b4", "#ff7f0e", "#2ca02c", "#d62728", "#9467bd"]},
                  "legend": {"orient": "none", "legendX": 300, "legendY": 266, "title": null,
                             "symbolType": "stroke", "symbolSize": 2601, "symbolStrokeWidth": 3,
                             "labelFontSize": 23.6, "labelFont": "DejaVu Sans", "labelColor": "black", "labelOffset": 15, "labelLimit": 500,
                             "padding": 7, "clipHeight": 26, "rowPadding": 8.7,
                             "fillColor": "rgba(255,255,255,0.8)", "strokeColor": "#cccccc", "cornerRadius": 4}},
        "order": {"field": "episode", "type": "quantitative"}
      }
    }
  ]
}
